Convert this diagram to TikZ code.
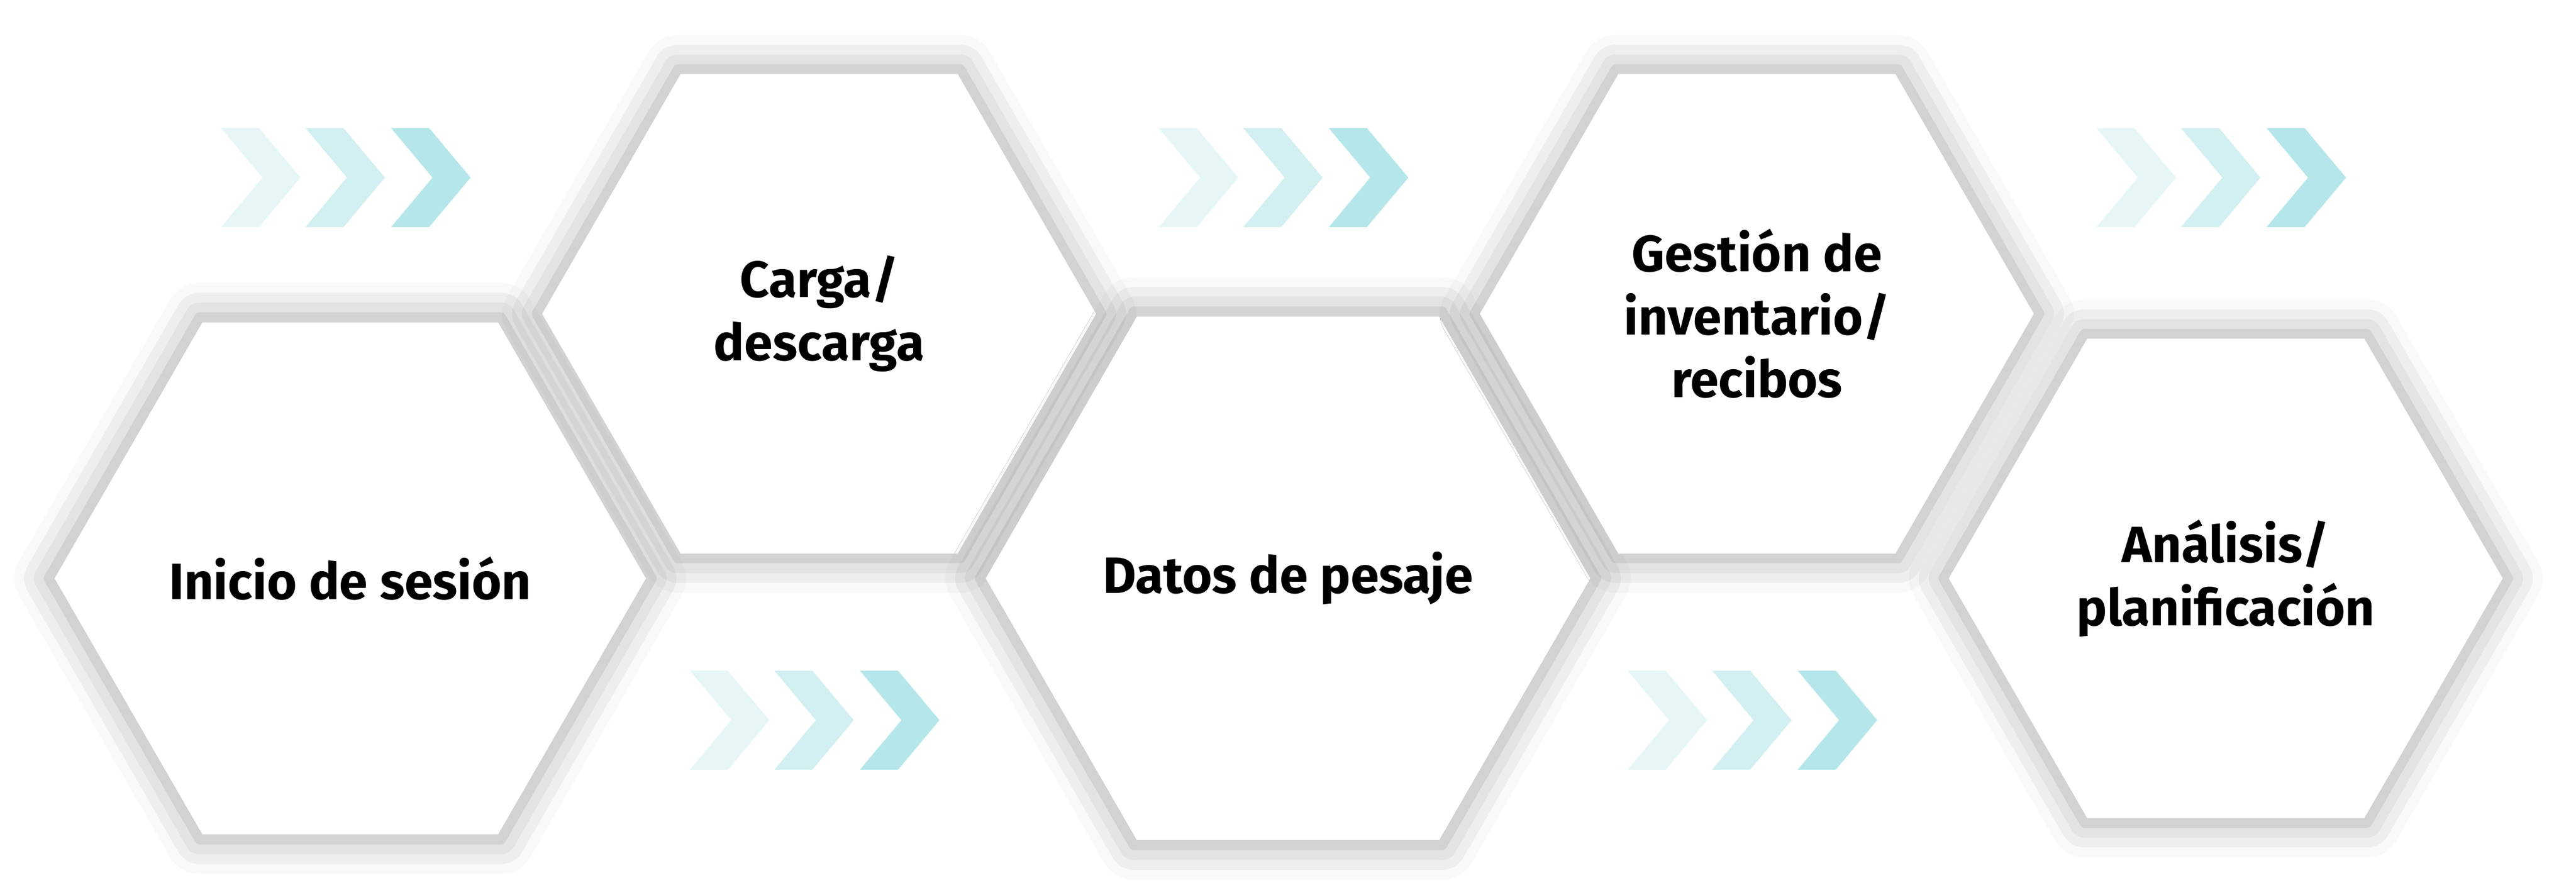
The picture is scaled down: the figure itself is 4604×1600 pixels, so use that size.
\documentclass[tikz,border=0pt]{standalone}
\usepackage{fontspec}
\setmainfont{Fira Sans}
\usetikzlibrary{shapes.geometric,shadows.blur}
\definecolor{chevA}{HTML}{E6F6F7}
\definecolor{chevB}{HTML}{D2EFF1}
\definecolor{chevC}{HTML}{B4E6EA}
\tikzset{
  hexa/.style={regular polygon, regular polygon sides=6, minimum size=49.5mm,
    inner sep=0pt, fill=white, draw=none, align=center,
    font=\fontsize{13}{16}\selectfont\bfseries,
    blur shadow={shadow xshift=0mm, shadow yshift=0mm, shadow blur radius=3mm,
      shadow opacity=35, shadow scale=1.02}},
}
\newcommand{\chevron}[3]{% x, top y, colour
  \fill[#3] (#1,#2) -- ++(68,0) -- ++(74,88.5) -- ++(-74,88.5) -- ++(-68,0) -- ++(74,-88.5) -- cycle;}

\begin{document}
\begin{tikzpicture}[x=0.05mm,y=-0.05mm]
  \useasboundingbox (0,0) rectangle (4604,1600);

  % hexagons
  \node[hexa] (h1) at (626,1034) {Inicio de sesión};
  \node[hexa] (h2) at (1464,561) {Carga/\\descarga};
  \node[hexa] (h3) at (2302,1034) {Datos de pesaje};
  \node[hexa] (h4) at (3140,561) {Gestión de\\inventario/\\recibos};
  \node[hexa] (h5) at (3978,1034) {Análisis/\\planificación};

  % chevrons
  \foreach \i/\t in {0/229,1/1199,2/229,3/1199,4/229}{
    \chevron{395+838*\i}{\t}{chevA}
    \chevron{546+838*\i}{\t}{chevB}
    \chevron{699+838*\i}{\t}{chevC}
  }
\end{tikzpicture}
\end{document}
